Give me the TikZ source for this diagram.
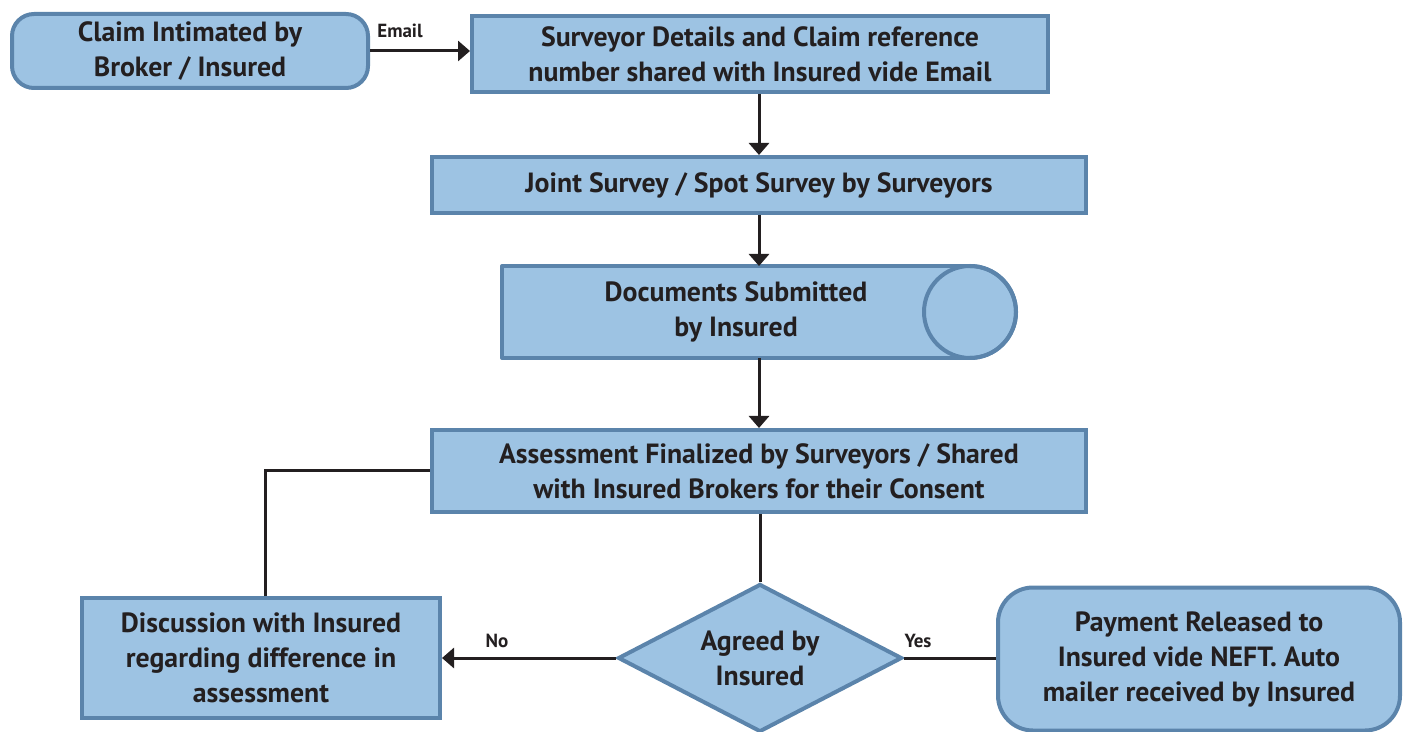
\documentclass[tikz,border=0pt]{standalone}
\usepackage{fontspec}
\setmainfont{PT Sans}
\usetikzlibrary{shapes.geometric,arrows.meta}
\definecolor{boxfill}{RGB}{157,195,227}
\definecolor{boxline}{RGB}{91,132,171}
\definecolor{ink}{RGB}{35,31,32}
\newcommand\boxfont{\bfseries\fontsize{27.8}{35}\selectfont}
\newcommand\labfont{\bfseries\fontsize{19}{22}\selectfont}

\begin{document}
\begin{tikzpicture}[x=1pt,y=1pt,
  box/.style={draw=boxline, fill=boxfill, line width=4pt, inner sep=0pt,
              outer sep=2pt, align=center, font=\boxfont, text=ink},
  conn/.style={draw=ink, line width=3pt},
  arr/.style={conn, -{Triangle[length=12pt,width=20pt]}},
  lab/.style={font=\labfont, text=ink}]

\useasboundingbox (0,0) rectangle (1404,731);

% process boxes
\node[box, rounded corners=22pt, minimum width=356, minimum height=74]
  (claim) at (190,680) {Claim Intimated by\\Broker / Insured};
\node[box, minimum width=576, minimum height=76]
  (surv) at (760,677) {Surveyor Details and Claim reference\\number shared with Insured vide Email};
\node[box, minimum width=654, minimum height=56]
  (joint) at (759,546) {Joint Survey / Spot Survey by Surveyors};

% documents store (horizontal cylinder)
\node[box, draw=none, outer sep=0pt, minimum width=468, minimum height=92]
  (docs) at (736,419) {Documents Submitted\\by Insured};
\draw[draw=boxline, line width=4pt, line join=round]
  (docs.north east) -- (docs.north west) -- (docs.south west) -- (docs.south east);
\filldraw[draw=boxline, fill=boxfill, line width=4pt]
  (docs.east) circle[radius=46pt];
\draw[draw=boxline, line width=4pt]
  (docs.north east) arc[start angle=90, end angle=-90, radius=46pt];

\node[box, minimum width=654, minimum height=82]
  (assess) at (759,260) {Assessment Finalized by Surveyors / Shared\\with Insured Brokers for their Consent};
\node[box, shape=diamond, aspect=1.9, minimum width=284, minimum height=148]
  (agree) at (760,73) {Agreed by\\Insured};
\node[box, minimum width=358, minimum height=120]
  (disc) at (261,73) {Discussion with Insured\\regarding difference in\\assessment};
\node[box, rounded corners=35pt, minimum width=402, minimum height=143]
  (pay) at (1199,72) {Payment Released to\\Insured vide NEFT. Auto\\mailer received by Insured};

% connectors
\draw[arr] (claim.east) -- (claim.east -| surv.west);
\node[lab] (email) at (400,700) {Email};
\draw[arr] (surv.south -| joint.north) -- (joint.north);
\draw[arr] (joint.south) -- (joint.south |- docs.north);
\draw[arr] (joint.south |- docs.south) -- (joint.south |- assess.north);
\draw[conn] (assess.south -| agree.north) -- (agree.north);
\draw[arr] (agree.west) -- (agree.west -| disc.east);
\node[lab] (no) at (497,90) {No};
\draw[conn] (agree.east) -- (agree.east -| pay.west);
\node[lab] (yes) at (918,90) {Yes};
\draw[conn] ([xshift=4pt]disc.north) |- (assess.west);
\end{tikzpicture}
\end{document}
